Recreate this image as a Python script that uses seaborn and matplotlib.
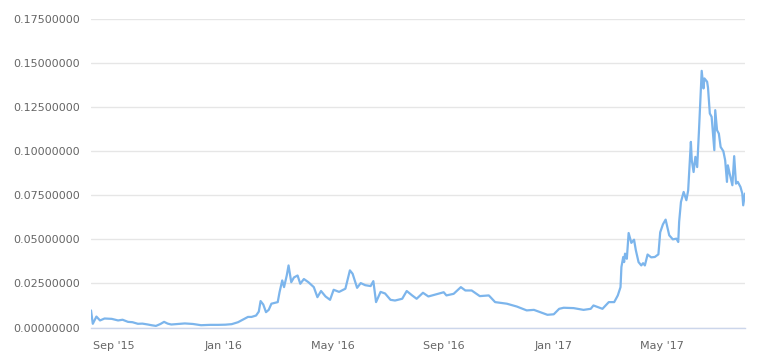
import matplotlib
matplotlib.use("Agg")
import matplotlib.pyplot as plt
import matplotlib.dates as mdates
import matplotlib.ticker as mticker
import numpy as np
import pandas as pd
import seaborn as sns

dates = [
    "2015-08-07", "2015-08-09", "2015-08-13", "2015-08-17", "2015-08-22", "2015-08-30",
    "2015-09-06", "2015-09-11", "2015-09-17", "2015-09-22", "2015-09-28", "2015-10-03",
    "2015-10-09", "2015-10-13", "2015-10-18", "2015-10-23", "2015-10-27", "2015-10-31",
    "2015-11-04", "2015-11-11", "2015-11-19", "2015-11-28", "2015-12-07", "2015-12-17",
    "2015-12-26", "2016-01-03", "2016-01-10", "2016-01-17", "2016-01-24", "2016-01-28",
    "2016-02-01", "2016-02-06", "2016-02-09", "2016-02-11", "2016-02-14", "2016-02-17",
    "2016-02-20", "2016-02-23", "2016-03-01", "2016-03-03", "2016-03-06", "2016-03-08",
    "2016-03-11", "2016-03-13", "2016-03-16", "2016-03-19", "2016-03-23", "2016-03-26",
    "2016-03-30", "2016-04-04", "2016-04-10", "2016-04-14", "2016-04-18", "2016-04-23",
    "2016-04-28", "2016-05-02", "2016-05-08", "2016-05-15", "2016-05-20", "2016-05-23",
    "2016-05-28", "2016-06-01", "2016-06-06", "2016-06-12", "2016-06-15", "2016-06-18",
    "2016-06-23", "2016-06-28", "2016-07-04", "2016-07-09", "2016-07-17", "2016-07-22",
    "2016-07-28", "2016-08-02", "2016-08-09", "2016-08-15", "2016-08-22", "2016-09-01",
    "2016-09-04", "2016-09-12", "2016-09-20", "2016-09-25", "2016-10-02", "2016-10-11",
    "2016-10-21", "2016-10-28", "2016-11-10", "2016-11-21", "2016-12-02", "2016-12-10",
    "2016-12-17", "2016-12-25", "2017-01-01", "2017-01-07", "2017-01-12", "2017-01-23",
    "2017-02-03", "2017-02-11", "2017-02-14", "2017-02-24", "2017-03-03", "2017-03-09",
    "2017-03-13", "2017-03-16", "2017-03-17", "2017-03-19", "2017-03-20", "2017-03-21",
    "2017-03-23", "2017-03-25", "2017-03-28", "2017-03-31", "2017-04-02", "2017-04-05",
    "2017-04-08", "2017-04-10", "2017-04-12", "2017-04-15", "2017-04-19", "2017-04-23",
    "2017-04-27", "2017-04-29", "2017-05-02", "2017-05-05", "2017-05-09", "2017-05-13",
    "2017-05-17", "2017-05-19", "2017-05-20", "2017-05-22", "2017-05-25", "2017-05-28",
    "2017-05-30", "2017-06-02", "2017-06-03", "2017-06-05", "2017-06-07", "2017-06-09",
    "2017-06-11", "2017-06-14", "2017-06-16", "2017-06-17", "2017-06-20", "2017-06-21",
    "2017-06-23", "2017-06-25", "2017-06-28", "2017-06-29", "2017-07-01", "2017-07-03",
    "2017-07-05", "2017-07-08", "2017-07-10", "2017-07-12", "2017-07-13", "2017-07-15",
    "2017-07-18", "2017-07-20", "2017-07-22", "2017-07-24", "2017-07-27", "2017-07-29",
    "2017-07-30", "2017-08-01",
]

prices = [
    0.0097, 0.0021, 0.0062, 0.0040, 0.0051, 0.0049,
    0.0040, 0.0044, 0.0032, 0.0030, 0.0021, 0.0022,
    0.0017, 0.0013, 0.0009, 0.0020, 0.0032, 0.0022,
    0.0017, 0.0020, 0.0023, 0.0020, 0.0013, 0.0015,
    0.0015, 0.0016, 0.0019, 0.0030, 0.0049, 0.0060,
    0.0060, 0.0068, 0.0090, 0.0150, 0.0130, 0.0087,
    0.0100, 0.0135, 0.0144, 0.0200, 0.0267, 0.0229,
    0.0295, 0.0352, 0.0257, 0.0284, 0.0295, 0.0248,
    0.0275, 0.0257, 0.0229, 0.0172, 0.0207, 0.0176,
    0.0157, 0.0214, 0.0202, 0.0220, 0.0324, 0.0305,
    0.0225, 0.0252, 0.0240, 0.0235, 0.0263, 0.0144,
    0.0202, 0.0193, 0.0157, 0.0153, 0.0163, 0.0207,
    0.0182, 0.0163, 0.0197, 0.0176, 0.0186, 0.0200,
    0.0182, 0.0191, 0.0229, 0.0210, 0.0210, 0.0178,
    0.0182, 0.0144, 0.0135, 0.0119, 0.0097, 0.0100,
    0.0087, 0.0072, 0.0075, 0.0106, 0.0112, 0.0110,
    0.0100, 0.0106, 0.0125, 0.0106, 0.0144, 0.0144,
    0.0182, 0.0229, 0.0343, 0.0400, 0.0371, 0.0419,
    0.0390, 0.0536, 0.0480, 0.0498, 0.0438, 0.0371,
    0.0352, 0.0365, 0.0352, 0.0414, 0.0398, 0.0400,
    0.0415, 0.0540, 0.0585, 0.0612, 0.0523, 0.0500,
    0.0504, 0.0485, 0.0600, 0.0712, 0.0769, 0.0722,
    0.0778, 0.1053, 0.0949, 0.0882, 0.0968, 0.0910,
    0.1119, 0.1456, 0.1356, 0.1413, 0.1394, 0.1360,
    0.1214, 0.1195, 0.1006, 0.1233, 0.1119, 0.1100,
    0.1024, 0.1000, 0.0949, 0.0826, 0.0920, 0.0873,
    0.0807, 0.0972, 0.0816, 0.0826, 0.0797, 0.0760,
    0.0693, 0.0760,
]

y_ticks = [0.0, 0.025, 0.05, 0.075, 0.1, 0.125, 0.15, 0.175]
x_ticks = ["2015-09-01", "2016-01-01", "2016-05-01", "2016-09-01", "2017-01-01", "2017-05-01"]

df = pd.DataFrame({"date": pd.to_datetime(dates), "price": prices})

sns.set_style("white")
plt.rcParams["font.family"] = ["DejaVu Sans"]

fig = plt.figure(figsize=(7.69, 3.64), dpi=100)
ax = fig.add_axes([91 / 769, 1 - 327.5 / 364, (745 - 91) / 769, (327.5 - 19) / 364])

sns.lineplot(data=df, x="date", y="price", ax=ax, color="#7cb5ec", linewidth=1.6)

ax.set_xlim(df["date"].iloc[0], df["date"].iloc[-1])
ax.set_ylim(0, 0.175)
ax.set_yticks(y_ticks)
ax.yaxis.set_major_formatter(mticker.FuncFormatter(lambda v, p: f"{v:.8f}"))
ax.set_xticks(pd.to_datetime(x_ticks))
ax.xaxis.set_major_formatter(mdates.DateFormatter("%b '%y"))

ax.grid(axis="y", color="#e6e6e6", linewidth=1)
ax.grid(axis="x", visible=False)
ax.set_axisbelow(True)
for s in ["top", "right", "left"]:
    ax.spines[s].set_visible(False)
ax.spines["bottom"].set_color("#ccd6eb")
ax.spines["bottom"].set_linewidth(1)

ax.tick_params(axis="y", length=0, pad=8, labelsize=8, labelcolor="#666666")
ax.tick_params(axis="x", length=7, width=1, color="#ccd6eb", pad=3, labelsize=8, labelcolor="#666666")
ax.set_xlabel("")
ax.set_ylabel("")

fig.savefig("out.png", dpi=100)
